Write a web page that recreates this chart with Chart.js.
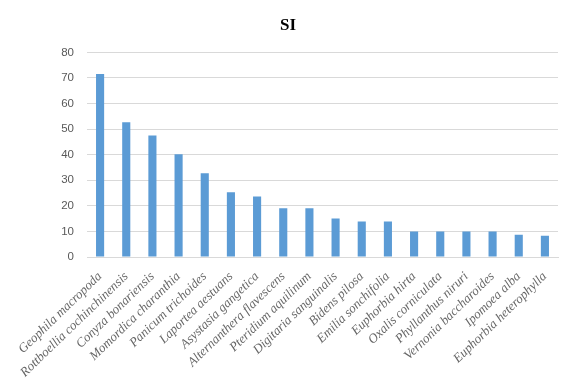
<!DOCTYPE html>
<html>
<head>
<meta charset="utf-8">
<script src="https://cdn.jsdelivr.net/npm/chart.js@4/dist/chart.umd.min.js"></script>
<style>
  body { margin: 0; background: #fff; }
  #wrap { width: 564px; height: 386px; }
</style>
</head>
<body>
<div id="wrap"><canvas id="si-chart" width="564" height="386"></canvas></div>
<script>
// species on the x axis
const species = [
  'Geophila macropoda', 'Rottboellia cochinchinensis', 'Conyza bonariensis',
  'Momordica charanthia', 'Panicum trichoides', 'Laportea aestuans',
  'Asystasia gangetica', 'Alternanthera flavescens', 'Pteridium aquilinum',
  'Digitaria sanguinalis', 'Bidens pilosa', 'Emilia sonchifolia',
  'Euphorbia hirta', 'Oxalis corniculata', 'Phyllanthus niruri',
  'Vernonia baccharoides', 'Ipomoea alba', 'Euphorbia heterophylla'
];
// SI values
const siValues = [71.6, 52.7, 47.5, 40.2, 32.7, 25.3, 23.7, 19.1, 19.1, 15.1, 13.9, 13.9, 10, 10, 10, 10, 8.7, 8.3];
const yTicks = [0, 10, 20, 30, 40, 50, 60, 70, 80];

const ctx = document.getElementById('si-chart');
new Chart(ctx, {
  type: 'bar',
  data: {
    labels: species,
    datasets: [{
      label: 'SI',
      data: siValues,
      backgroundColor: '#5b9bd5',
      borderWidth: 0,
      barPercentage: 0.31,
      categoryPercentage: 1
    }]
  },
  options: {
    responsive: false,
    animation: false,
    layout: { padding: { left: 18, right: 6, top: 0, bottom: 0 } },
    plugins: {
      legend: { display: false },
      tooltip: { enabled: false },
      title: {
        display: true,
        text: 'SI',
        color: '#000',
        font: { family: 'Liberation Serif', size: 17, weight: 'bold' },
        padding: { top: 15, bottom: 17 }
      }
    },
    scales: {
      x: {
        grid: { display: false },
        border: { display: true, color: '#d9d9d9', width: 1 },
        ticks: {
          autoSkip: false,
          maxRotation: 44,
          minRotation: 44,
          padding: 4,
          color: '#666',
          font: { family: 'Liberation Serif', size: 13, style: 'italic' }
        },
        afterFit: (scale) => { scale.height = 129; }
      },
      y: {
        min: 0,
        max: 80,
        afterBuildTicks: (scale) => { scale.ticks = yTicks.map(v => ({ value: v })); },
        grid: { color: '#d9d9d9', drawTicks: false },
        border: { display: false },
        ticks: {
          padding: 13,
          color: '#595959',
          font: { family: 'Liberation Sans', size: 11.5 }
        },
        afterFit: (scale) => { scale.width = 69; }
      }
    }
  }
});
</script>
</body>
</html>
